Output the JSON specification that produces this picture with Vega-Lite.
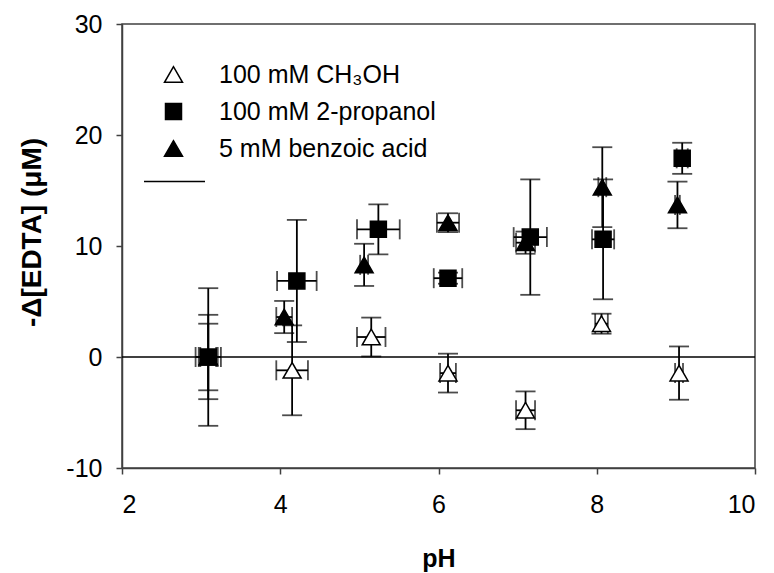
{
  "$schema": "https://vega.github.io/schema/vega-lite/v6.json",
  "width": 633,
  "height": 444,
  "autosize": "none",
  "padding": {"left": 122, "top": 24, "right": 19, "bottom": 105},
  "background": "white",
  "config": {
    "font": "Liberation Sans",
    "view": {"stroke": "#404040", "strokeWidth": 1.5},
    "axis": {
      "grid": false,
      "domainColor": "#404040",
      "domainWidth": 1.5,
      "tickColor": "#404040",
      "tickWidth": 1.5,
      "tickSize": 6,
      "labelFont": "Liberation Sans",
      "labelFontSize": 25,
      "labelColor": "black",
      "titleFont": "Liberation Sans",
      "titleFontSize": 25,
      "titleFontWeight": "bold",
      "titleColor": "black"
    },
    "legend": {
      "orient": "none", "legendX": 39, "legendY": 38, "title": null,
      "labelFontSize": 25, "labelColor": "black", "labelOffset": 33, "labelLimit": 0,
      "symbolStrokeWidth": 1.5, "rowPadding": 11, "padding": 0
    }
  },
  "datasets": {
    "pts": [
      {"s": "100 mM CH₃OH", "ph": 3.09, "v": 0, "ey": 3.0, "ex": 0.1},
      {"s": "100 mM CH₃OH", "ph": 4.15, "v": -1.2, "ey": 4.05, "ex": 0.2},
      {"s": "100 mM CH₃OH", "ph": 5.15, "v": 1.8, "ey": 1.75, "ex": 0.18},
      {"s": "100 mM CH₃OH", "ph": 6.12, "v": -1.45, "ey": 1.75, "ex": 0.1},
      {"s": "100 mM CH₃OH", "ph": 7.1, "v": -4.8, "ey": 1.7, "ex": 0.12},
      {"s": "100 mM CH₃OH", "ph": 8.06, "v": 3.0, "ey": 0.9, "ex": 0.08},
      {"s": "100 mM CH₃OH", "ph": 9.04, "v": -1.45, "ey": 2.4, "ex": 0.05},
      {"s": "100 mM 2-propanol", "ph": 3.09, "v": 0, "ey": 6.2, "ex": 0.16},
      {"s": "100 mM 2-propanol", "ph": 4.21, "v": 6.85, "ey": 5.5, "ex": 0.25},
      {"s": "100 mM 2-propanol", "ph": 5.24, "v": 11.5, "ey": 2.25, "ex": 0.27},
      {"s": "100 mM 2-propanol", "ph": 6.12, "v": 7.1, "ey": 0.5, "ex": 0.18},
      {"s": "100 mM 2-propanol", "ph": 7.16, "v": 10.8, "ey": 5.2, "ex": 0.21},
      {"s": "100 mM 2-propanol", "ph": 8.08, "v": 10.6, "ey": 5.4, "ex": 0.14},
      {"s": "100 mM 2-propanol", "ph": 9.08, "v": 17.9, "ey": 1.4, "ex": 0.07},
      {"s": "5 mM benzoic acid", "ph": 3.09, "v": 0, "ey": 3.8, "ex": 0.12},
      {"s": "5 mM benzoic acid", "ph": 4.05, "v": 3.6, "ey": 1.45, "ex": 0.1},
      {"s": "5 mM benzoic acid", "ph": 5.06, "v": 8.3, "ey": 1.9, "ex": 0.05},
      {"s": "5 mM benzoic acid", "ph": 6.12, "v": 12.1, "ey": 0.85, "ex": 0.14},
      {"s": "5 mM benzoic acid", "ph": 7.1, "v": 10.3, "ey": 1.0, "ex": 0.12},
      {"s": "5 mM benzoic acid", "ph": 8.07, "v": 15.3, "ey": 3.6, "ex": 0.05},
      {"s": "5 mM benzoic acid", "ph": 9.02, "v": 13.7, "ey": 2.1, "ex": 0.03}
    ],
    "zero": [{"z": 0, "k": "zero"}]
  },
  "layer": [
    {
      "data": {"name": "zero"},
      "mark": {"type": "rule", "strokeWidth": 1.5},
      "encoding": {
        "y": {
          "field": "z", "type": "quantitative",
          "scale": {"domain": [-10, 30], "nice": false, "zero": false},
          "axis": {"values": [-10, 0, 10, 20, 30], "title": "-Δ[EDTA] (μM)", "labelExpr": "'' + datum.value", "labelPadding": 14, "titleX": -82, "titleY": 208, "titleBaseline": "alphabetic", "titleAngle": -90, "titleFontSize": 28}
        },
        "color": {
          "field": "k", "type": "nominal",
          "scale": {"range": ["black"]},
          "legend": {
            "orient": "none", "legendX": 21, "legendY": 126, "title": null,
            "symbolType": "stroke", "symbolSize": 3721, "symbolStrokeWidth": 1.5,
            "labelExpr": "''", "padding": 0
          }
        }
      }
    },
    {
      "data": {"name": "pts"},
      "mark": {"type": "errorbar", "color": "black", "thickness": 1.8, "ticks": {"size": 20, "thickness": 1.8, "color": "black"}},
      "encoding": {
        "x": {
          "field": "ph", "type": "quantitative",
          "scale": {"domain": [2, 10], "nice": false, "zero": false},
          "axis": {"values": [2, 4, 6, 8, 10], "title": "pH", "labelExpr": "'' + datum.value", "labelPadding": 18, "titleY": 98, "titleBaseline": "alphabetic"}
        },
        "y": {
          "field": "v", "type": "quantitative",
          "scale": {"domain": [-10, 30], "nice": false, "zero": false},
          "axis": {"values": [-10, 0, 10, 20, 30], "title": "-Δ[EDTA] (μM)", "labelExpr": "'' + datum.value", "labelPadding": 14, "titleX": -82, "titleY": 208, "titleBaseline": "alphabetic", "titleAngle": -90, "titleFontSize": 28}
        },
        "yError": {"field": "ey"}
      }
    },
    {
      "data": {"name": "pts"},
      "mark": {"type": "errorbar", "color": "black", "thickness": 1.8, "ticks": {"size": 20, "thickness": 1.8, "color": "black"}},
      "encoding": {
        "y": {
          "field": "v", "type": "quantitative",
          "scale": {"domain": [-10, 30], "nice": false, "zero": false},
          "axis": {"values": [-10, 0, 10, 20, 30], "title": "-Δ[EDTA] (μM)", "labelExpr": "'' + datum.value", "labelPadding": 14, "titleX": -82, "titleY": 208, "titleBaseline": "alphabetic", "titleAngle": -90, "titleFontSize": 28}
        },
        "x": {
          "field": "ph", "type": "quantitative",
          "scale": {"domain": [2, 10], "nice": false, "zero": false},
          "axis": {"values": [2, 4, 6, 8, 10], "title": "pH", "labelExpr": "'' + datum.value", "labelPadding": 18, "titleY": 98, "titleBaseline": "alphabetic"}
        },
        "xError": {"field": "ex"}
      }
    },
    {
      "data": {"name": "pts"},
      "mark": {"type": "point", "filled": true, "strokeWidth": 1.5, "opacity": 1, "fillOpacity": 1, "strokeOpacity": 1},
      "encoding": {
        "x": {
          "field": "ph", "type": "quantitative",
          "scale": {"domain": [2, 10], "nice": false, "zero": false},
          "axis": {"values": [2, 4, 6, 8, 10], "title": "pH", "labelExpr": "'' + datum.value", "labelPadding": 18, "titleY": 98, "titleBaseline": "alphabetic"}
        },
        "y": {
          "field": "v", "type": "quantitative",
          "scale": {"domain": [-10, 30], "nice": false, "zero": false},
          "axis": {"values": [-10, 0, 10, 20, 30], "title": "-Δ[EDTA] (μM)", "labelExpr": "'' + datum.value", "labelPadding": 14, "titleX": -82, "titleY": 208, "titleBaseline": "alphabetic", "titleAngle": -90, "titleFontSize": 28}
        },
        "shape": {
          "field": "s", "type": "nominal",
          "scale": {"domain": ["100 mM CH₃OH", "100 mM 2-propanol", "5 mM benzoic acid"], "range": ["triangle-up", "square", "triangle-up"]}
        },
        "fill": {
          "field": "s", "type": "nominal",
          "scale": {"domain": ["100 mM CH₃OH", "100 mM 2-propanol", "5 mM benzoic acid"], "range": ["white", "black", "black"]}
        },
        "stroke": {
          "field": "s", "type": "nominal",
          "scale": {"domain": ["100 mM CH₃OH", "100 mM 2-propanol", "5 mM benzoic acid"], "range": ["black", "black", "black"]}
        },
        "size": {
          "field": "s", "type": "nominal",
          "scale": {"type": "ordinal", "domain": ["100 mM CH₃OH", "100 mM 2-propanol", "5 mM benzoic acid"], "range": [324, 256, 324]}
        }
      }
    }
  ]
}
